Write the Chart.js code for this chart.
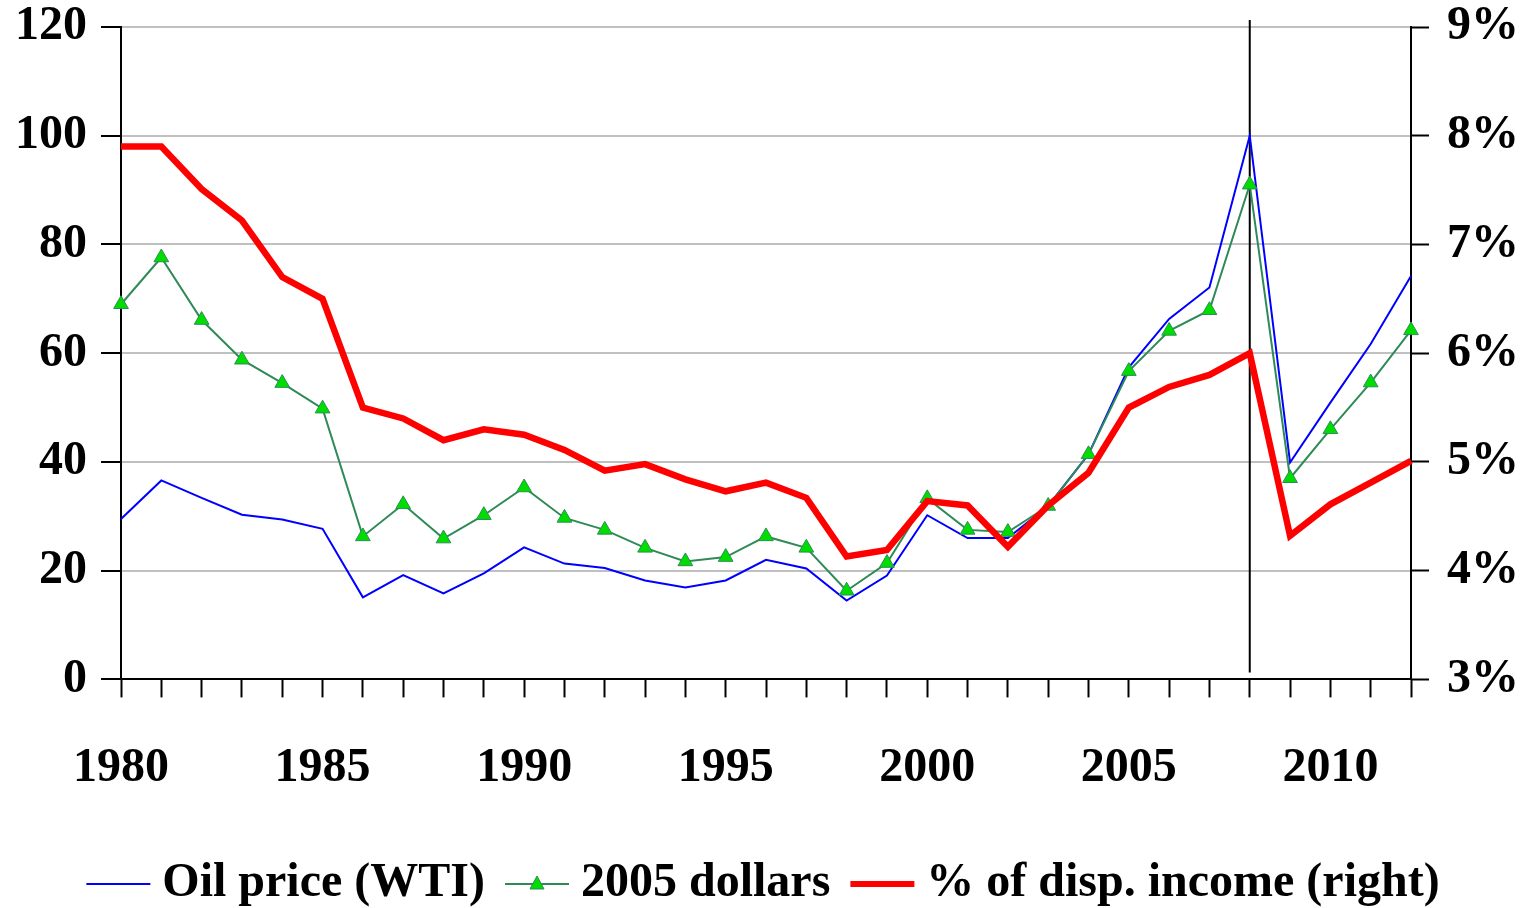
<!DOCTYPE html>
<html>
<head>
<meta charset="utf-8">
<script src="https://cdn.jsdelivr.net/npm/chart.js@4.4.0/dist/chart.umd.min.js"></script>
<style>
  html, body { margin: 0; padding: 0; background: #fff; }
  #wrap { width: 1529px; height: 908px; }
</style>
</head>
<body>
<div id="wrap"><canvas id="myChart" width="1529" height="908"></canvas></div>
<script>
var years = [];
for (var y = 1980; y <= 2012; y++) years.push(y);

// nominal WTI price, $/bbl
var oil_price = [29.5, 36.6, 33.4, 30.3, 29.4, 27.7, 15.1, 19.2, 15.8, 19.5,
                 24.3, 21.3, 20.5, 18.2, 16.9, 18.2, 22.0, 20.4, 14.5, 19.1,
                 30.2, 26.0, 26.0, 31.9, 41.4, 57.4, 66.3, 72.1, 100.0, 39.9,
                 50.9, 61.7, 74.2];
// in 2005 dollars
var real_price = [69.0, 77.6, 66.1, 58.8, 54.5, 49.8, 26.3, 32.2, 25.9, 30.2,
                  35.3, 29.7, 27.5, 24.2, 21.7, 22.5, 26.3, 24.2, 16.3, 21.4,
                  33.3, 27.5, 27.1, 31.9, 41.4, 56.7, 64.1, 67.9, 91.0, 37.0,
                  46.0, 54.6, 64.2];
// share of disposable income, % (right axis)
var income_share = [7.9, 7.9, 7.51, 7.22, 6.70, 6.50, 5.50, 5.40, 5.20, 5.30,
                    5.25, 5.11, 4.92, 4.98, 4.84, 4.73, 4.81, 4.67, 4.13, 4.19,
                    4.64, 4.60, 4.22, 4.60, 4.90, 5.50, 5.69, 5.80, 6.00, 4.32,
                    4.61, 4.81, 5.01];

var left_ticks = [0, 120, 20];
var right_ticks = [3, 9, 1];
var marker_year = 2008;

var FONT = 'Liberation Serif, Times New Roman, serif';

function legendSample(color, width, tri) {
    var c = document.createElement('canvas');
    c.width = 66; c.height = 20;
    var g = c.getContext('2d');
    g.strokeStyle = color;
    g.lineWidth = width;
    g.beginPath();
    g.moveTo(1, 10); g.lineTo(65, 10);
    g.stroke();
    if (tri) {
        g.fillStyle = '#00dd00';
        g.strokeStyle = '#2e8b57';
        g.lineWidth = 1;
        g.beginPath();
        g.moveTo(33, 2); g.lineTo(40, 15); g.lineTo(26, 15); g.closePath();
        g.fill(); g.stroke();
    }
    return c;
}

var samples = [
    legendSample('#0000ff', 2, false),
    legendSample('#2e8b57', 2, true),
    legendSample('#ff0000', 6, false)
];

var markerLine = {
    id: 'markerLine',
    beforeDatasetsDraw: function(chart) {
        var xs = chart.scales.x;
        var area = chart.chartArea;
        var px = xs.getPixelForValue(years.indexOf(marker_year));
        var ctx = chart.ctx;
        ctx.save();
        ctx.strokeStyle = '#000';
        ctx.lineWidth = 2;
        ctx.beginPath();
        ctx.moveTo(px, area.top - 7);
        ctx.lineTo(px, area.bottom - 7);
        ctx.stroke();
        ctx.restore();
    }
};

// keep top label room small so the plot starts near the top edge
function trimPad(scale) {
    scale.paddingTop = 27;
    scale.paddingBottom = 0;
}

var dataset = {
    labels: years,
    datasets: [{
        label: 'Oil price (WTI)',
        borderColor: '#0000ff',
        borderWidth: 2,
        pointRadius: 0,
        tension: 0,
        yAxisID: 'y',
        order: 3,
        data: oil_price
    }, {
        label: '2005 dollars',
        borderColor: '#2e8b57',
        borderWidth: 2,
        pointStyle: 'triangle',
        pointRadius: 8.5,
        pointBackgroundColor: '#00dd00',
        pointBorderColor: '#2e8b57',
        pointBorderWidth: 1,
        tension: 0,
        yAxisID: 'y',
        order: 2,
        data: real_price
    }, {
        label: '% of disp. income (right)',
        borderColor: '#ff0000',
        borderWidth: 6.5,
        pointRadius: 0,
        tension: 0,
        yAxisID: 'y1',
        order: 1,
        data: income_share
    }]
};

var ctx = document.getElementById('myChart').getContext('2d');
var myChart = new Chart(ctx, {
    type: 'line',
    data: dataset,
    plugins: [markerLine],
    options: {
        responsive: false,
        animation: false,
        layout: { padding: { left: 1, right: -8, top: 0, bottom: -10 } },
        plugins: {
            tooltip: { enabled: false },
            legend: {
                position: 'bottom',
                labels: {
                    usePointStyle: true,
                    color: '#000',
                    padding: 32,
                    font: { family: FONT, size: 48, weight: 'bold', lineHeight: 1 },
                    generateLabels: function(chart) {
                        return chart.data.datasets.map(function(ds, i) {
                            return {
                                text: ds.label,
                                pointStyle: samples[i],
                                fillStyle: ds.borderColor,
                                strokeStyle: ds.borderColor,
                                lineWidth: 0,
                                datasetIndex: i,
                                fontColor: '#000'
                            };
                        });
                    }
                }
            }
        },
        scales: {
            x: {
                type: 'category',
                offset: false,
                grid: {
                    drawOnChartArea: false,
                    drawTicks: true,
                    tickLength: 18,
                    tickColor: '#000',
                    tickWidth: 2
                },
                border: { color: '#000', width: 2 },
                afterFit: function(scale) { scale.height -= 11; },
                ticks: {
                    autoSkip: false,
                    maxRotation: 0,
                    color: '#000',
                    padding: 42,
                    font: { family: FONT, size: 48, weight: 'bold' },
                    callback: function(v, i) {
                        var yr = years[i];
                        return yr % 5 === 0 ? String(yr) : '';
                    }
                }
            },
            y: {
                position: 'left',
                min: left_ticks[0],
                max: left_ticks[1],
                afterFit: trimPad,
                grid: {
                    color: '#c0c0c0',
                    lineWidth: 2,
                    tickColor: '#000',
                    tickLength: 20,
                    tickWidth: 2
                },
                border: { color: '#000', width: 2 },
                ticks: {
                    stepSize: left_ticks[2],
                    color: '#000',
                    padding: 14,
                    font: { family: FONT, size: 48, weight: 'bold', lineHeight: 1 }
                }
            },
            y1: {
                position: 'right',
                min: right_ticks[0],
                max: right_ticks[1],
                afterFit: trimPad,
                grid: {
                    drawOnChartArea: false,
                    tickColor: '#000',
                    tickLength: 18,
                    tickWidth: 2
                },
                border: { color: '#000', width: 2 },
                ticks: {
                    stepSize: right_ticks[2],
                    color: '#000',
                    padding: 18,
                    font: { family: FONT, size: 48, weight: 'bold', lineHeight: 1 },
                    callback: function(v) { return v + '%'; }
                }
            }
        }
    }
});
</script>
</body>
</html>
